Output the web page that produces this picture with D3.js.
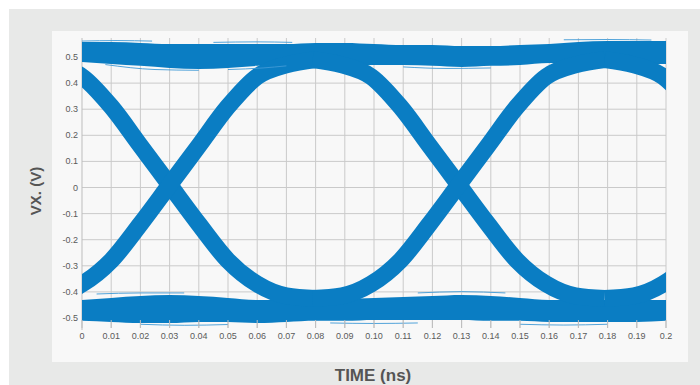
<!DOCTYPE html>
<html>
<head>
<meta charset="utf-8">
<script src="https://cdn.jsdelivr.net/npm/d3@7/dist/d3.min.js"></script>
<style>
  body { margin: 0; background: #fff; }
  text { font-family: "Liberation Sans", Arial, sans-serif; }
</style>
</head>
<body>
<div id="chart"></div>
<script>
// tick values and labels
const xTicks = [0, 0.01, 0.02, 0.03, 0.04, 0.05, 0.06, 0.07, 0.08, 0.09, 0.10,
  0.11, 0.12, 0.13, 0.14, 0.15, 0.16, 0.17, 0.18, 0.19, 0.2];
const xTickLabels = ["0", "0.01", "0.02", "0.03", "0.04", "0.05", "0.06", "0.07", "0.08", "0.09", "0.10",
  "0.11", "0.12", "0.13", "0.14", "0.15", "0.16", "0.17", "0.18", "0.19", "0.2"];
const yTicks = [0.5, 0.4, 0.3, 0.2, 0.1, 0, -0.1, -0.2, -0.3, -0.4, -0.5];
const yTickLabels = ["0.5", "0.4", "0.3", "0.2", "0.1", "0", "-0.1", "-0.2", "-0.3", "-0.4", "-0.5"];

// rails (steady high / low levels), sampled every 0.01 ns
const railTimes = xTicks;
const topRailHi = [0.557, 0.557, 0.554, 0.550, 0.550, 0.550, 0.550, 0.550, 0.554, 0.554, 0.550,
  0.546, 0.546, 0.542, 0.542, 0.546, 0.550, 0.557, 0.561, 0.561, 0.561];
const topRailLo = [0.481, 0.473, 0.466, 0.458, 0.454, 0.458, 0.466, 0.473, 0.473, 0.469, 0.469,
  0.469, 0.466, 0.462, 0.466, 0.469, 0.477, 0.477, 0.473, 0.473, 0.473];
const botRailHi = [-0.431, -0.423, -0.416, -0.412, -0.416, -0.423, -0.431, -0.431, -0.431, -0.427, -0.423,
  -0.420, -0.416, -0.412, -0.416, -0.423, -0.431, -0.431, -0.431, -0.431, -0.431];
const botRailLo = [-0.511, -0.515, -0.519, -0.519, -0.515, -0.515, -0.519, -0.515, -0.511, -0.511, -0.508,
  -0.508, -0.508, -0.508, -0.511, -0.511, -0.515, -0.515, -0.515, -0.515, -0.511];

// transitions: crossing times and the falling edge profile around a crossing
const crossings = [-0.07, 0.03, 0.129, 0.229];
const edgeOffsets = [-0.05, -0.04, -0.03, -0.02, -0.01, 0, 0.01, 0.02, 0.03, 0.04, 0.05];
const fallingEdge = [0.49, 0.47, 0.425, 0.31, 0.16, 0.01, -0.14, -0.28, -0.37, -0.415, -0.425];

// short stray traces at the rail edges
const strays = [
  [[0.0, 0.561], [0.012, 0.563], [0.024, 0.561]],
  [[0.045, 0.556], [0.06, 0.558], [0.072, 0.556]],
  [[0.165, 0.566], [0.18, 0.567], [0.195, 0.565]],
  [[0.008, 0.471], [0.025, 0.452], [0.04, 0.449]],
  [[0.05, 0.452], [0.062, 0.458], [0.07, 0.466]],
  [[0.11, 0.462], [0.125, 0.456], [0.14, 0.458]],
  [[0.02, -0.524], [0.035, -0.528], [0.05, -0.525]],
  [[0.085, -0.519], [0.1, -0.521], [0.115, -0.519]],
  [[0.15, -0.524], [0.165, -0.527], [0.18, -0.524]],
  [[0.005, -0.408], [0.02, -0.404], [0.035, -0.404]],
  [[0.115, -0.404], [0.13, -0.399], [0.145, -0.404]]
];

const W = 700, H = 385;
const blue = "#0a7dc3";

const svg = d3.select("#chart").append("svg")
  .attr("width", W)
  .attr("height", H);

// background panels
svg.append("rect").attr("x", 9).attr("y", 9).attr("width", W - 9).attr("height", H - 9).attr("fill", "#e8e9e8");
svg.append("rect").attr("x", 52).attr("y", 31).attr("width", 636).attr("height", 331).attr("fill", "#f8f8f8");

const x = d3.scaleLinear().domain([0, 0.2]).range([82, 666]);
const y = d3.scaleLinear().domain([-0.5, 0.5]).range([318, 57]);

// grid
svg.append("g")
  .selectAll("line")
  .data(xTicks.slice(1))
  .enter()
  .append("line")
    .attr("x1", d => x(d)).attr("x2", d => x(d))
    .attr("y1", 38).attr("y2", 328)
    .attr("stroke", "#cacaca")
    .attr("stroke-width", 1);

svg.append("g")
  .selectAll("line")
  .data(yTicks)
  .enter()
  .append("line")
    .attr("x1", 82).attr("x2", 666)
    .attr("y1", d => y(d)).attr("y2", d => y(d))
    .attr("stroke", "#cacaca")
    .attr("stroke-width", 1);

// y axis line
svg.append("line")
  .attr("x1", 82).attr("x2", 82)
  .attr("y1", 38).attr("y2", 330)
  .attr("stroke", "#bdbdbd");

svg.append("clipPath").attr("id", "plot")
  .append("rect").attr("x", 82).attr("y", 30).attr("width", 584).attr("height", 305);

const g = svg.append("g").attr("clip-path", "url(#plot)");

// rails
const rail = (hi, lo) => d3.area()
  .x((d, i) => x(railTimes[i]))
  .y0((d, i) => y(lo[i]))
  .y1((d, i) => y(hi[i]))
  .curve(d3.curveMonotoneX)(railTimes);

g.append("path").attr("d", rail(topRailHi, topRailLo)).attr("fill", blue);
g.append("path").attr("d", rail(botRailHi, botRailLo)).attr("fill", blue);

// falling and rising edges
const edgeLine = d3.line()
  .x(d => x(d[0]))
  .y(d => y(d[1]))
  .curve(d3.curveMonotoneX);

const n = fallingEdge.length;
crossings.forEach(c => {
  const falling = edgeOffsets.map((d, i) => [c + d, fallingEdge[i]]);
  const rising = edgeOffsets.map((d, i) => [c + d, fallingEdge[n - 1 - i]]);
  [falling, rising].forEach(pts => {
    g.append("path")
      .attr("d", edgeLine(pts))
      .attr("fill", "none")
      .attr("stroke", blue)
      .attr("stroke-width", 17);
  });
});

// stray traces
g.selectAll(".stray")
  .data(strays)
  .enter()
  .append("path")
    .attr("class", "stray")
    .attr("d", d => edgeLine(d))
    .attr("fill", "none")
    .attr("stroke", "#3f9ad6")
    .attr("stroke-width", 0.9);

// x ticks and labels
svg.append("g")
  .selectAll("line")
  .data(xTicks)
  .enter()
  .append("line")
    .attr("x1", d => x(d)).attr("x2", d => x(d))
    .attr("y1", 320).attr("y2", 328)
    .attr("stroke", "#bdbdbd");

svg.append("g")
  .selectAll("text")
  .data(xTicks)
  .enter()
  .append("text")
    .attr("x", d => x(d))
    .attr("y", 339)
    .attr("text-anchor", "middle")
    .attr("font-size", "9px")
    .attr("fill", "#5a5a5a")
    .text((d, i) => xTickLabels[i]);

svg.append("g")
  .selectAll("text")
  .data(yTicks)
  .enter()
  .append("text")
    .attr("x", 78)
    .attr("y", d => y(d) + 3)
    .attr("text-anchor", "end")
    .attr("font-size", "9px")
    .attr("fill", "#5a5a5a")
    .text((d, i) => yTickLabels[i]);

// axis titles
svg.append("text")
  .attr("x", 373)
  .attr("y", 381)
  .attr("text-anchor", "middle")
  .attr("font-size", "17px")
  .attr("font-weight", "bold")
  .attr("fill", "#555")
  .text("TIME (ns)");

svg.append("text")
  .attr("transform", "translate(41,191) rotate(-90)")
  .attr("text-anchor", "middle")
  .attr("font-size", "15px")
  .attr("font-weight", "bold")
  .attr("fill", "#555")
  .text("VX. (V)");
</script>
</body>
</html>
